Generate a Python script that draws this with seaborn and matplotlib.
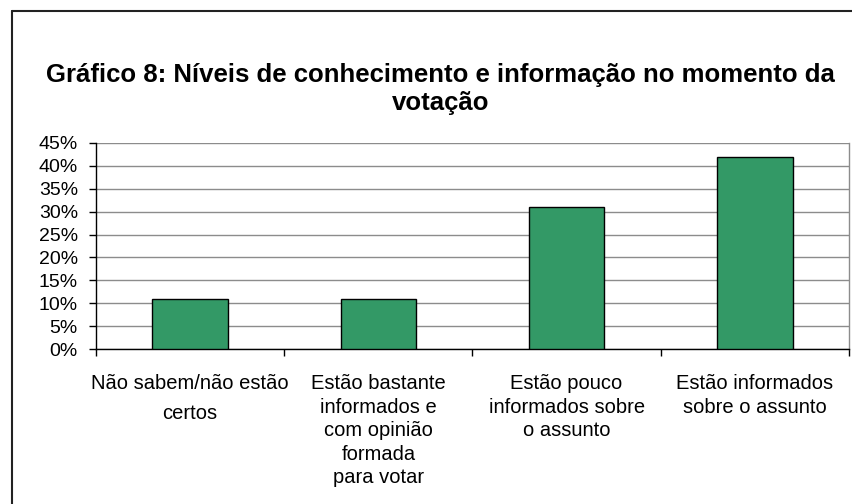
import pandas as pd
import matplotlib
matplotlib.use("Agg")
import matplotlib.pyplot as plt
import seaborn as sns
from matplotlib.lines import Line2D
from matplotlib.ticker import FixedLocator

categorias = [
    "Não sabem/não estão\ncertos",
    "Estão bastante\ninformados e\ncom opinião\nformada\npara votar",
    "Estão pouco\ninformados sobre\no assunto",
    "Estão informados\nsobre o assunto",
]
percentagens = [11, 11, 31, 42]
y_ticks = [0, 5, 10, 15, 20, 25, 30, 35, 40, 45]

data = pd.DataFrame({"categoria": categorias, "pct": percentagens})

sns.set_style("white")
plt.rcParams['font.family'] = ['Liberation Sans', 'DejaVu Sans']

fig = plt.figure(figsize=(8.53, 5.04), dpi=100)
ax = fig.add_axes([0.1125, 0.3075, 0.8828, 0.4088])

sns.barplot(data=data, x="categoria", y="pct", color="#339966", saturation=1,
            width=0.4, edgecolor="black", linewidth=1, ax=ax, zorder=3)

ax.set_ylim(0, 45)
ax.set_xlim(-0.5, 3.5)
ax.set_yticks(y_ticks)
ax.set_yticklabels([f"{t}%" for t in y_ticks], fontsize=14, color="black")
ax.yaxis.grid(True, color="#8c8c8c", linewidth=1, zorder=0)
ax.set_axisbelow(True)

ax.set_xticks(range(len(categorias)))
ax.set_xticklabels(categorias, fontsize=14.5, linespacing=1.3, va="top", color="black")
ax.get_xticklabels()[0].set_linespacing(1.75)
ax.tick_params(axis="x", which="major", length=0, pad=18)
ax.xaxis.set_minor_locator(FixedLocator([-0.5, 0.5, 1.5, 2.5, 3.5]))
ax.tick_params(axis="x", which="minor", length=5, width=1, color="black", bottom=True)
ax.tick_params(axis="y", length=5, width=1, color="black", left=True, pad=8)

ax.set_xlabel("")
ax.set_ylabel("")
for side in ["left", "bottom"]:
    ax.spines[side].set_color("black")
    ax.spines[side].set_linewidth(1)
ax.spines["top"].set_visible(False)
ax.spines["right"].set_color("#8c8c8c")
ax.spines["right"].set_linewidth(1)

fig.text(0.516, 1 - 89 / 504,
         "Gráfico 8: Níveis de conhecimento e informação no momento da\nvotação",
         ha="center", va="center", fontsize=18.5, fontweight="bold",
         linespacing=1.25, color="black")

# moldura do gráfico
x0, y0 = 12 / 853, 1 - 11 / 504
fig.add_artist(Line2D([x0, x0], [0, y0], color="#222222", linewidth=1.5))
fig.add_artist(Line2D([x0, 1], [y0, y0], color="#222222", linewidth=1.5))

fig.savefig("out.png", dpi=100)
